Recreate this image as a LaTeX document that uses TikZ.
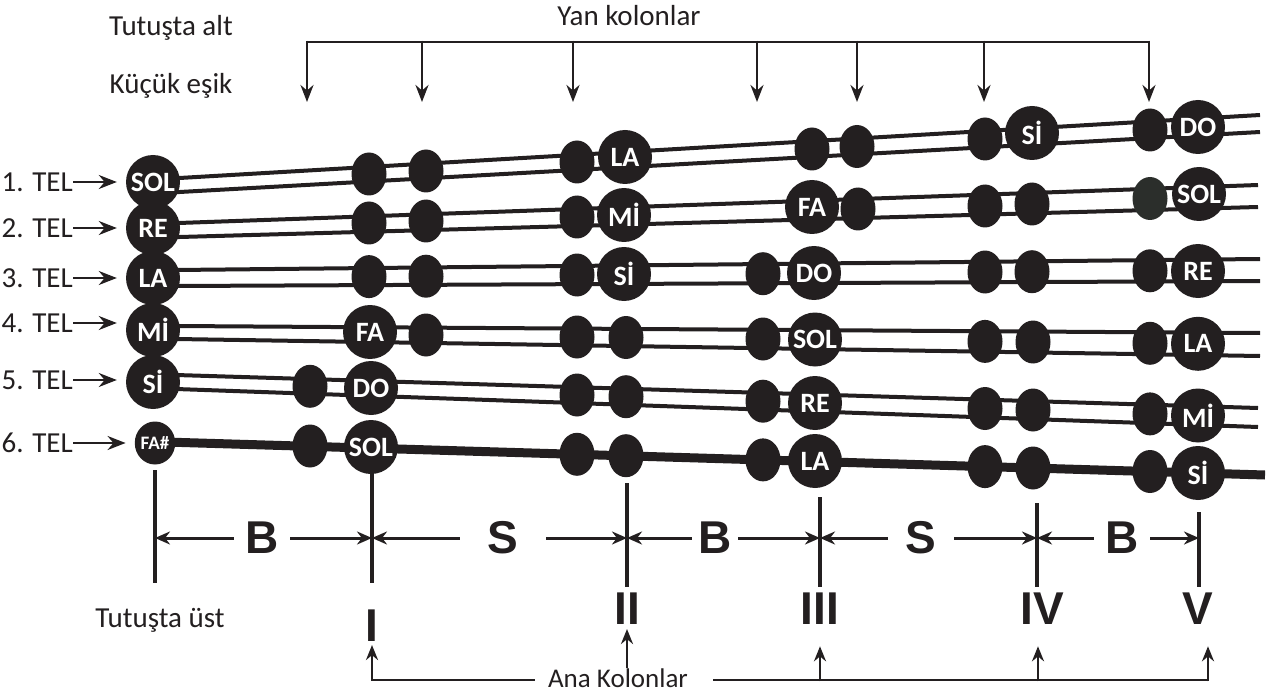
\documentclass[tikz,border=0pt]{standalone}
\usepackage{fontspec}
\setmainfont{Carlito}
\newfontfamily\romfont{Liberation Sans}
\usepackage{tikz}
\usetikzlibrary{arrows.meta,shapes.geometric}
\definecolor{telBlack}{HTML}{231F20}
\definecolor{telGrey}{HTML}{2B2E2B}
\newcommand\notafont{\bfseries\fontsize{28}{28}\selectfont}
\newcommand\yazifont{\fontsize{29}{29}\selectfont}
\newcommand\harffont{\romfont\bfseries\fontsize{46}{46}\selectfont}
\tikzset{
  nota/.style={circle, fill=telBlack, minimum size=54pt, inner sep=0pt, text=white, font=\notafont},
  perde/.style={ellipse, fill=telBlack, minimum width=35pt, minimum height=43pt, inner sep=0pt},
  teltel/.style={line width=4pt, draw=telBlack},
  okucu/.style={-{Stealth[length=15pt,width=12pt]}, line width=2.6pt, draw=telBlack},
  olcu/.style={{Stealth[length=15pt,width=13pt]}-{Stealth[length=15pt,width=13pt]}, line width=3pt, draw=telBlack},
  kolon/.style={line width=4.5pt, draw=telBlack},
  yazi/.style={font=\yazifont, text=telBlack, inner sep=0pt},
  harf/.style={font=\harffont, text=telBlack, fill=white, inner ysep=0pt, inner xsep=2pt},
}

\begin{document}
\begin{tikzpicture}[x=1pt, y=-1pt]
  \useasboundingbox (0,0) rectangle (1269,695);
  % side columns on top
  \node[yazi, anchor=base] (tutAlt) at (171,36) {Tutuşta alt};
  \node[yazi, anchor=base] (esik) at (171,94) {Küçük eşik};
  \node[yazi, anchor=base] (yan) at (629,26) {Yan kolonlar};
  \draw[line width=2.6pt, telBlack] (307,42) coordinate (yanL) -- (1149,42) coordinate (yanR);
  \foreach \x [count=\i] in {307,422,573,757,857,984,1149} {
    \coordinate (yan\i) at (\x,40.7);
    \draw[okucu, -{Stealth[length=17pt,width=13pt]}] (yan\i) -- ++(0,61.3);
  }
  % the strings (pairs of lines), string 6 is one thick line
  \draw[teltel] (176,178.2) -- (1260,115);   \draw[teltel] (176,192.2) -- (1260,132);
  \draw[teltel] (176,223.1) -- (1258,185);   \draw[teltel] (176,237.1) -- (1258,207);
  \draw[teltel] (176,270) -- (1260,259);     \draw[teltel] (176,286) -- (1260,281);
  \draw[teltel] (176,326) -- (1260,333);     \draw[teltel] (176,339) -- (1260,356);
  \draw[teltel] (176,375) -- (1258,408);     \draw[teltel] (176,389) -- (1258,427);
  \draw[telBlack, line width=9pt] (165,442) -- (1265,475);
  % open strings
  \node[nota] (kok1) at (153,182) {SOL};
  \node[nota] (kok2) at (153,228) {RE};
  \node[nota] (kok3) at (153,278) {LA};
  \node[nota] (kok4) at (153,330) {Mİ};
  \node[nota] (kok5) at (153,382) {Sİ};
  \node[perde, minimum width=36pt, text=white, font=\bfseries\fontsize{19}{19}\selectfont] (kok6) at (155,443) {FA\#};
  \foreach \n/\y in {1/182,2/228,3/278,4/323,5/380,6/443} {
    \node[yazi, anchor=east] (tel\n) at (73,\y) {\n. TEL};
    \draw[okucu, line width=2.2pt, -{Stealth[length=18pt,width=14pt]}, shorten >=9pt] (tel\n.east) -- (tel\n.east -| kok\n.west);
  }
  % frets, string 1
  \foreach \x/\y [count=\i] in {369/174, 426/171, 577/162, 812/149, 857/146.5, 985/139, 1150/130}
    \node[perde] (p1\i) at (\x,\y) {};
  \node[nota] (n1a) at (625,157) {LA};
  \node[nota] (n1b) at (1032,133) {Sİ};
  \node[nota] (n1c) at (1198,127) {DO};
  % string 2
  \foreach \x/\y [count=\i] in {369/223, 426/221, 577/217, 858/209, 985/206, 1032/204}
    \node[perde] (p2\i) at (\x,\y) {};
  \node[perde, fill=telGrey] (p27) at (1150,198.5) {};
  \node[nota] (n2a) at (624,215) {Mİ};
  \node[nota] (n2b) at (812,207) {FA};
  \node[nota] (n2c) at (1199,194) {SOL};
  % string 3
  \foreach \x/\y [count=\i] in {369/276.6, 426/276.2, 577/275, 763/273.7, 985/272, 1032/271.7, 1150/270.8}
    \node[perde] (p3\i) at (\x,\y) {};
  \node[nota] (n3a) at (624,274) {Sİ};
  \node[nota] (n3b) at (814,273) {DO};
  \node[nota] (n3c) at (1198,271) {RE};
  % string 4
  \foreach \x/\y [count=\i] in {426/335, 577/337, 626/337.5, 763/339, 985/341.4, 1033/342, 1150/343.3}
    \node[perde] (p4\i) at (\x,\y) {};
  \node[nota] (n4a) at (370,332) {FA};
  \node[nota] (n4b) at (815,339.5) {SOL};
  \node[nota] (n4c) at (1198,343.8) {LA};
  % string 5
  \foreach \x/\y [count=\i] in {310/386.3, 577/395, 626/396.7, 763/401.2, 985/408.5, 1033/410, 1150/413.9}
    \node[perde] (p5\i) at (\x,\y) {};
  \node[nota] (n5a) at (371,388) {DO};
  \node[nota] (n5b) at (815,403) {RE};
  \node[nota] (n5c) at (1198,415.5) {Mİ};
  % string 6
  \foreach \x/\y [count=\i] in {310/446, 577/454.3, 626/455.7, 763/459.9, 985/466.6, 1033/468, 1150/471.5}
    \node[perde] (p6\i) at (\x,\y) {};
  \node[nota] (n6a) at (371,447) {SOL};
  \node[nota] (n6b) at (815,461) {LA};
  \node[nota] (n6c) at (1198,473) {Sİ};
  % main columns and spacing
  \foreach \n/\x/\t/\b in {0/155/470/583, 1/372/470/583, 2/627/483/587, 3/820/497/587, 4/1037/503/587, 5/1199/512/587} {
    \coordinate (kt\n) at (\x,\t);
    \coordinate (kb\n) at (\x,\b);
    \coordinate (kd\n) at (\x,538);
    \draw[kolon] (kt\n) -- (kb\n);
  }
  \draw[olcu] (kd0) -- (kd1);
  \draw[olcu] (kd1) -- (kd2);
  \draw[olcu] (kd2) -- (kd3);
  \draw[olcu] (kd3) -- (kd4);
  \draw[olcu] (kd4) -- (kd5);
  \node[harf, inner xsep=11pt] (aB1) at (262,538) {B};
  \node[harf, inner xsep=28pt] (aS1) at (503,538) {S};
  \node[harf, inner xsep=6pt] (aB2) at (715,538) {B};
  \node[harf, inner xsep=18pt] (aS2) at (921,538) {S};
  \node[harf, inner xsep=11pt] (aB3) at (1122,538) {B};
  \node[harf] (r1) at (372,626) {I};
  \node[harf] (r2) at (627,609) {II};
  \node[harf] (r3) at (820,609) {III};
  \node[harf] (r4) at (1042,609) {IV};
  \node[harf] (r5) at (1198,609) {V};
  \node[yazi, anchor=base] (tutUst) at (160,627) {Tutuşta üst};
  % main columns bracket
  \node[yazi, anchor=base, font=\fontsize{27}{27}\selectfont] (ana) at (618,687) {Ana Kolonlar};
  \coordinate (anaL) at (372,680);
  \coordinate (anaR) at (1208,680);
  \draw[okucu, shorten >=3pt] ([xshift=-13pt]ana.west |- anaL) -- (anaL) -- (r1.south);
  \draw[okucu, shorten >=4pt] (ana.north -| r2.south) -- (r2.south);
  \draw[line width=2.6pt, telBlack] ([xshift=25pt]ana.east |- anaR) -- ([xshift=1.3pt]anaR);
  \foreach \n/\x in {3/820, 4/1038, 5/1208} {
    \coordinate (ak\n) at (\x,681.3);
    \draw[okucu] (ak\n) -- ++(0,-35);
  }
\end{tikzpicture}
\end{document}
